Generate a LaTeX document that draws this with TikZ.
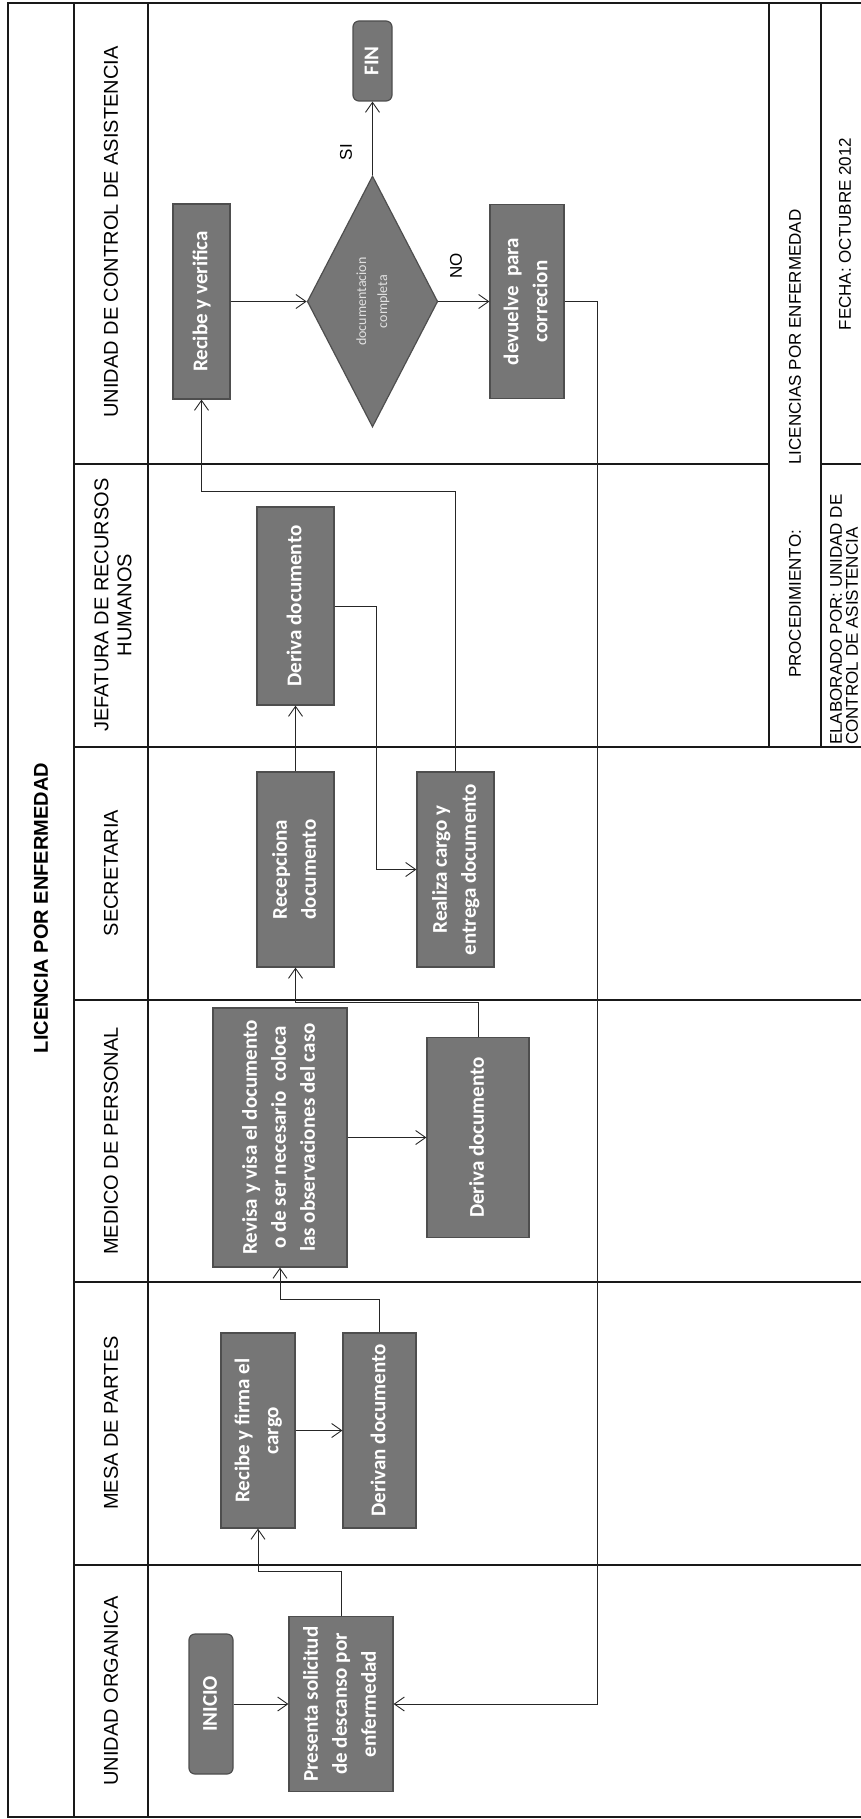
\documentclass[tikz,border=0pt]{standalone}
\usepackage{graphicx}
\usepackage{fontspec}
\setmainfont{Liberation Sans}
\newfontfamily\boxfont{Carlito}
\usetikzlibrary{arrows.meta,shapes.geometric}
\definecolor{boxfill}{RGB}{118,118,118}
\definecolor{boxedge}{RGB}{78,78,78}
\definecolor{dectext}{RGB}{225,225,225}
\newcommand{\rtx}[1]{\rotatebox{90}{\begin{tabular}{@{}c@{}}#1\end{tabular}}}
\tikzset{
  frame/.style={line width=1.4pt, draw=black!90},
  proc/.style={draw=boxedge, fill=boxfill, line width=1.2pt, inner sep=0pt, text=white,
    font=\boxfont\bfseries\fontsize{21}{29}\selectfont},
  term/.style={proc, rounded corners=6pt},
  conn/.style={line width=0.9pt, draw=black!85, -{Straight Barb[length=10pt,width=14pt,line width=0.9pt]}},
  lbl/.style={rotate=90, font=\fontsize{20}{23}\selectfont, align=center, inner sep=0pt},
  foot/.style={rotate=90, font=\fontsize{17}{16}\selectfont, inner sep=0pt},
  yn/.style={rotate=90, font=\fontsize{17}{19}\selectfont, inner sep=0pt}
}
\begin{document}
\begin{tikzpicture}[x=1pt,y=-1pt]
\useasboundingbox (0,0) rectangle (861,1819);
\clip (0,0) rectangle (861,1819);

% frame
\draw[frame] (8,3) rectangle (880,1817);
\draw[frame] (74,3) -- (74,1817);
\draw[frame] (148,3) -- (148,1817);
\draw[frame] (74,464) -- (769,464);
\draw[frame] (821,464) -- (861,464);
\draw[frame] (74,747) -- (861,747);
\draw[frame] (74,1000) -- (861,1000);
\draw[frame] (74,1282) -- (861,1282);
\draw[frame] (74,1565) -- (861,1565);
\draw[frame] (769,3) -- (769,747);
\draw[frame] (821,3) -- (821,747);

% title and lane headers
\node[lbl, font=\bfseries\fontsize{20}{23}\selectfont] (title) at (41,908) {LICENCIA POR ENFERMEDAD};
\node[lbl] (hUCA) at (111,232) {UNIDAD DE CONTROL DE ASISTENCIA};
\node[lbl] (hJEF) at (113,605) {JEFATURA DE RECURSOS\\HUMANOS};
\node[lbl] (hSEC) at (111,873) {SECRETARIA};
\node[lbl] (hMED) at (111,1141) {MEDICO DE PERSONAL};
\node[lbl] (hMESA) at (111,1423) {MESA DE PARTES};
\node[lbl] (hUO) at (111,1691) {UNIDAD ORGANICA};

% footer
\node[foot] (fproc) at (795,604) {PROCEDIMIENTO:};
\node[foot] (flic) at (795,337) {LICENCIAS POR ENFERMEDAD};
\node[foot] (ffecha) at (845,234) {FECHA: OCTUBRE 2012};
\node[foot, anchor=west, align=left] (felab) at (844,745) {ELABORADO POR: UNIDAD DE\\CONTROL DE ASISTENCIA};

% process nodes
\node[term, minimum width=44pt, minimum height=140pt] (inicio) at (211,1704) {\rtx{INICIO}};
\node[proc, minimum width=104pt, minimum height=175pt] (presenta) at (341,1704) {\rtx{Presenta solicitud\\de descanso por\\enfermedad}};
\node[proc, minimum width=74pt, minimum height=195pt] (recfirma) at (258,1430.5) {\rtx{Recibe y firma el\\cargo}};
\node[proc, minimum width=73pt, minimum height=195pt] (derivan) at (379.5,1430.5) {\rtx{Derivan documento}};
\node[proc, minimum width=134pt, minimum height=259pt] (revisa) at (280,1137.5) {\rtx{Revisa y visa el documento\\o de ser necesario\ \ coloca\\las observaciones del caso}};
\node[proc, minimum width=102pt, minimum height=200pt] (derivamed) at (478,1137.5) {\rtx{Deriva documento}};
\node[proc, minimum width=77pt, minimum height=195pt] (recep) at (295.5,869.5) {\rtx{Recepciona\\documento}};
\node[proc, minimum width=77pt, minimum height=195pt] (realiza) at (455.5,869.5) {\rtx{Realiza cargo y\\entrega documento}};
\node[proc, minimum width=77pt, minimum height=198pt] (derivajef) at (295.5,606) {\rtx{Deriva documento}};
\node[proc, minimum width=57pt, minimum height=195pt] (recver) at (201.5,301.5) {\rtx{Recibe y verifica}};
\node[diamond, draw=boxedge, fill=boxfill, line width=1.2pt, inner sep=0pt,
      minimum width=109pt, minimum height=251pt, text=dectext,
      font=\boxfont\fontsize{14}{21}\selectfont] (dec) at (372.5,301.5) {\rtx{documentacion\\completa}};
\node[proc, minimum width=74pt, minimum height=194pt] (devuelve) at (527,301.5) {\rtx{devuelve\ \ para\\correcion}};
\node[term, minimum width=39pt, minimum height=80pt] (fin) at (372.5,61) {\rtx{FIN}};

% connectors
\draw[conn] (inicio.east) -- (presenta.west);
\draw[conn] (presenta.north) -- ++(0,-44) -| (recfirma.south);
\draw[conn] (recfirma.east) -- (derivan.west);
\draw[conn] (derivan.north) -- ++(0,-33) -| (revisa.south);
\draw[conn] (revisa.east) -- (derivamed.west);
\draw[conn] (derivamed.north) -- ++(0,-34) -| (recep.south);
\draw[conn] (recep.north) -- (derivajef.south);
\draw[conn] (derivajef.east) -- ++(42,0) |- (realiza.west);
\draw[conn] (realiza.north) -- ++(0,-280) -| (recver.south);
\draw[conn] (recver.east) -- (dec.west);
\draw[conn] (dec.east) -- (devuelve.west);
\draw[conn] (dec.north) -- (fin.south);
\draw[conn] (devuelve.east) -- ++(33,0) |- (presenta.east);

% labels
\node[yn] (si) at (346,152) {SI};
\node[yn] (no) at (456,266) {NO};
\end{tikzpicture}
\end{document}
